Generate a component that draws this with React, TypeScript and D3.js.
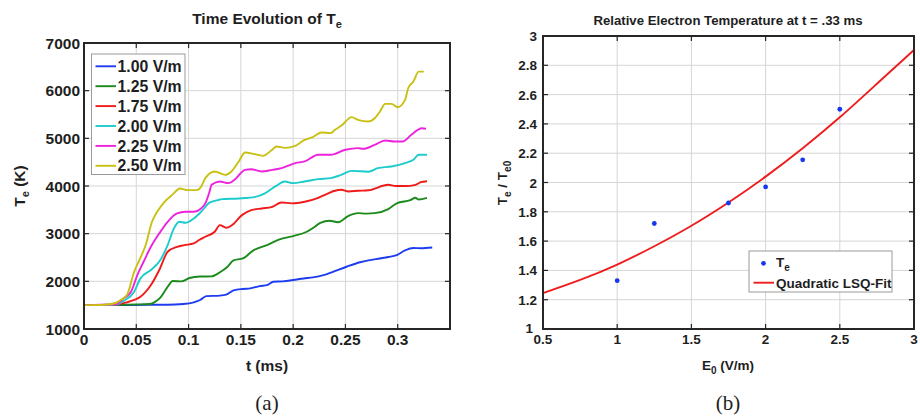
import React from "react";
import * as d3 from "d3";

// ---------- Panel (a) data: time [ms], Te [K] ----------
const legendLabels = ["1.00 V/m", "1.25 V/m", "1.75 V/m", "2.00 V/m", "2.25 V/m", "2.50 V/m"];
const seriesColors = ["#1d3cf0", "#1b8a1b", "#f01a1a", "#1ccccc", "#ee22dd", "#c8c012"];

const te100: [number, number][] = [[0,1500],[0.03,1500],[0.06,1510],[0.08,1510],[0.095,1525],[0.105,1560],[0.111,1608],[0.117,1690],[0.13,1700],[0.136,1720],[0.143,1810],[0.152,1840],[0.159,1852],[0.168,1900],[0.175,1920],[0.181,1990],[0.19,2000],[0.2,2027],[0.21,2060],[0.219,2083],[0.229,2130],[0.238,2200],[0.251,2306],[0.264,2400],[0.272,2440],[0.283,2480],[0.291,2510],[0.299,2550],[0.307,2650],[0.315,2700],[0.322,2695],[0.333,2710]];
const te125: [number, number][] = [[0,1500],[0.03,1505],[0.05,1515],[0.063,1525],[0.068,1570],[0.073,1656],[0.079,1852],[0.085,2006],[0.093,2000],[0.101,2070],[0.111,2100],[0.122,2105],[0.13,2190],[0.137,2300],[0.143,2440],[0.152,2480],[0.162,2650],[0.175,2760],[0.187,2880],[0.2,2950],[0.213,3040],[0.221,3150],[0.226,3228],[0.235,3270],[0.243,3240],[0.253,3375],[0.262,3430],[0.27,3420],[0.278,3430],[0.291,3515],[0.299,3635],[0.312,3704],[0.317,3752],[0.32,3717],[0.328,3752]];
const te175: [number, number][] = [[0,1500],[0.03,1510],[0.041,1560],[0.048,1610],[0.054,1677],[0.064,1922],[0.072,2237],[0.08,2621],[0.089,2725],[0.096,2760],[0.105,2796],[0.11,2866],[0.116,2935],[0.125,3040],[0.13,3180],[0.136,3124],[0.141,3170],[0.151,3389],[0.16,3494],[0.17,3529],[0.18,3564],[0.189,3655],[0.199,3635],[0.211,3669],[0.224,3752],[0.232,3830],[0.24,3900],[0.246,3920],[0.253,3886],[0.262,3900],[0.272,3910],[0.291,4025],[0.298,4000],[0.307,4000],[0.317,4025],[0.322,4080],[0.328,4100]];
const te200: [number, number][] = [[0,1500],[0.03,1515],[0.038,1590],[0.048,1782],[0.054,2062],[0.064,2237],[0.073,2446],[0.08,2761],[0.086,3110],[0.091,3249],[0.097,3228],[0.105,3320],[0.112,3459],[0.12,3650],[0.128,3704],[0.132,3725],[0.148,3739],[0.164,3773],[0.173,3844],[0.18,3949],[0.183,3991],[0.192,4095],[0.2,4060],[0.211,4095],[0.224,4144],[0.236,4165],[0.246,4234],[0.256,4318],[0.272,4300],[0.281,4375],[0.294,4410],[0.307,4480],[0.315,4550],[0.32,4655],[0.328,4655]];
const te225: [number, number][] = [[0,1500],[0.03,1520],[0.038,1643],[0.045,1782],[0.051,2132],[0.057,2411],[0.064,2725],[0.072,3006],[0.08,3249],[0.089,3425],[0.097,3459],[0.105,3459],[0.112,3529],[0.116,3634],[0.12,3878],[0.122,4025],[0.13,4095],[0.138,4060],[0.144,4130],[0.154,4339],[0.16,4350],[0.17,4305],[0.18,4339],[0.189,4375],[0.202,4480],[0.211,4515],[0.224,4655],[0.236,4655],[0.25,4760],[0.262,4794],[0.267,4780],[0.278,4864],[0.288,4955],[0.297,4934],[0.305,4934],[0.313,5074],[0.323,5213],[0.327,5200]];
const te250: [number, number][] = [[0,1500],[0.02,1510],[0.03,1545],[0.035,1608],[0.041,1712],[0.048,2201],[0.053,2446],[0.059,2761],[0.065,3249],[0.07,3459],[0.077,3669],[0.084,3808],[0.092,3949],[0.099,3913],[0.108,3913],[0.112,3983],[0.116,4165],[0.125,4305],[0.135,4234],[0.141,4305],[0.148,4515],[0.154,4703],[0.162,4675],[0.171,4633],[0.18,4760],[0.184,4829],[0.192,4800],[0.202,4843],[0.211,4968],[0.218,5018],[0.227,5123],[0.236,5110],[0.24,5178],[0.246,5262],[0.256,5444],[0.262,5387],[0.272,5353],[0.278,5422],[0.283,5563],[0.288,5722],[0.294,5722],[0.3,5653],[0.307,5806],[0.31,6051],[0.315,6191],[0.32,6400],[0.325,6400]];
const teSeries = [te100, te125, te175, te200, te225, te250];

const tTicks = [0, 0.05, 0.1, 0.15, 0.2, 0.25, 0.3];
const tTickLabels = ["0", "0.05", "0.1", "0.15", "0.2", "0.25", "0.3"];
const teTicks = [1000, 2000, 3000, 4000, 5000, 6000, 7000];

// ---------- Panel (b) data ----------
const fieldE = [1, 1.25, 1.75, 2, 2.25, 2.5];
const ratioTe = [1.33, 1.72, 1.86, 1.97, 2.155, 2.5];
const fitE = [0.5, 0.75, 1, 1.25, 1.5, 1.75, 2, 2.25, 2.5, 2.75, 3];
const fitRatio = [1.245, 1.335, 1.44, 1.565, 1.705, 1.864, 2.04, 2.234, 2.445, 2.674, 2.905];
const eTicks = [0.5, 1, 1.5, 2, 2.5, 3];
const eTickLabels = ["0.5", "1", "1.5", "2", "2.5", "3"];
const rTicks = [1, 1.2, 1.4, 1.6, 1.8, 2, 2.2, 2.4, 2.6, 2.8, 3];
const rTickLabels = ["1", "1.2", "1.4", "1.6", "1.8", "2", "2.2", "2.4", "2.6", "2.8", "3"];

const FONT = "'Liberation Sans', Arial, Helvetica, sans-serif";
const SERIF = "'Liberation Serif', 'DejaVu Serif', serif";
const AXIS = "#262626";
const GRID = "#d6d6d6";
const TXT = "#1e1e1e";

export default function App() {
  // Panel (a) scales
  const ax = d3.scaleLinear().domain([0, 0.35]).range([84, 450]);
  const ay = d3.scaleLinear().domain([1000, 7000]).range([329, 43]);
  const lineA = d3.line<[number, number]>().x(d => ax(d[0])).y(d => ay(d[1])).curve(d3.curveMonotoneX);

  // Panel (b) scales
  const bx = d3.scaleLinear().domain([0.5, 3]).range([543, 914]);
  const by = d3.scaleLinear().domain([1, 3]).range([329, 36]);
  const fitLine = d3.line<number>().x((_, i) => bx(fitE[i])).y(d => by(d)).curve(d3.curveNatural);

  const tickLen = 5;

  return (
    <div style={{ position: "fixed", left: 0, top: 0 }}>
      <svg width={920} height={418} style={{ display: "block", background: "#fff" }} fontFamily={FONT}>
        {/* ================= Panel (a) ================= */}
        <g>
          {tTicks.slice(1).map(t => (
            <line key={"gx" + t} x1={ax(t)} x2={ax(t)} y1={ay(1000)} y2={ay(7000)} stroke={GRID} strokeWidth={1} />
          ))}
          {teTicks.slice(1, -1).map(v => (
            <line key={"gy" + v} x1={ax(0)} x2={ax(0.35)} y1={ay(v)} y2={ay(v)} stroke={GRID} strokeWidth={1} />
          ))}
          {teSeries.map((s, i) => (
            <path key={"s" + i} d={lineA(s) || ""} fill="none" stroke={seriesColors[i]} strokeWidth={1.9} strokeLinejoin="round" />
          ))}
          {tTicks.map(t => (
            <g key={"tx" + t}>
              <line x1={ax(t)} x2={ax(t)} y1={ay(1000)} y2={ay(1000) - tickLen} stroke={AXIS} strokeWidth={1.2} />
              <line x1={ax(t)} x2={ax(t)} y1={ay(7000)} y2={ay(7000) + tickLen} stroke={AXIS} strokeWidth={1.2} />
            </g>
          ))}
          {teTicks.map(v => (
            <g key={"ty" + v}>
              <line x1={ax(0)} x2={ax(0) + tickLen} y1={ay(v)} y2={ay(v)} stroke={AXIS} strokeWidth={1.2} />
              <line x1={ax(0.35)} x2={ax(0.35) - tickLen} y1={ay(v)} y2={ay(v)} stroke={AXIS} strokeWidth={1.2} />
            </g>
          ))}
          <rect x={ax(0)} y={ay(7000)} width={ax(0.35) - ax(0)} height={ay(1000) - ay(7000)} fill="none" stroke={AXIS} strokeWidth={2} />
          {tTicks.map((t, i) => (
            <text key={"lx" + t} x={ax(t)} y={345} textAnchor="middle" fontSize={15.5} fontWeight="bold" fill={TXT}>{tTickLabels[i]}</text>
          ))}
          {teTicks.map(v => (
            <text key={"ly" + v} x={80} y={ay(v) + 5.5} textAnchor="end" fontSize={15.5} fontWeight="bold" fill={TXT}>{v}</text>
          ))}
          <rect x={91.5} y={54} width={93.5} height={120.5} fill="#fff" stroke="#9a9a9a" strokeWidth={1} />
          {legendLabels.map((lab, i) => (
            <g key={"lg" + i}>
              <line x1={95.5} x2={116} y1={66.3 + i * 19.9} y2={66.3 + i * 19.9} stroke={seriesColors[i]} strokeWidth={1.9} />
              <text x={117.5} y={66.3 + i * 19.9 + 5.6} fontSize={15.8} fontWeight="bold" fill={TXT}>{lab}</text>
            </g>
          ))}
          <text x={267} y={24} textAnchor="middle" fontSize={15.5} fontWeight="bold" fill={TXT}>
            Time Evolution of T<tspan fontSize={11} dy={4}>e</tspan>
          </text>
          <text x={267} y={371} textAnchor="middle" fontSize={15.5} fontWeight="bold" fill={TXT}>t (ms)</text>
          <text transform={`translate(25,186) rotate(-90)`} textAnchor="middle" fontSize={15.5} fontWeight="bold" fill={TXT}>
            T<tspan fontSize={11} dy={4}>e</tspan><tspan dy={-4}> (K)</tspan>
          </text>
          <text x={267} y={410} textAnchor="middle" fontSize={21} fontFamily={SERIF} fill={TXT}>(a)</text>
        </g>

        {/* ================= Panel (b) ================= */}
        <g>
          {eTicks.slice(1, -1).map(e => (
            <line key={"bgx" + e} x1={bx(e)} x2={bx(e)} y1={by(1)} y2={by(3)} stroke={GRID} strokeWidth={1} />
          ))}
          {rTicks.slice(1, -1).map(r => (
            <line key={"bgy" + r} x1={bx(0.5)} x2={bx(3)} y1={by(r)} y2={by(r)} stroke={GRID} strokeWidth={1} />
          ))}
          <path d={fitLine(fitRatio) || ""} fill="none" stroke="#ee1c1c" strokeWidth={1.9} />
          {fieldE.map((e, i) => (
            <circle key={"pt" + i} cx={bx(e)} cy={by(ratioTe[i])} r={2.4} fill="#1736f0" />
          ))}
          {eTicks.map(e => (
            <g key={"btx" + e}>
              <line x1={bx(e)} x2={bx(e)} y1={by(1)} y2={by(1) - tickLen} stroke={AXIS} strokeWidth={1.2} />
              <line x1={bx(e)} x2={bx(e)} y1={by(3)} y2={by(3) + tickLen} stroke={AXIS} strokeWidth={1.2} />
            </g>
          ))}
          {rTicks.map(r => (
            <g key={"bty" + r}>
              <line x1={bx(0.5)} x2={bx(0.5) + tickLen} y1={by(r)} y2={by(r)} stroke={AXIS} strokeWidth={1.2} />
              <line x1={bx(3)} x2={bx(3) - tickLen} y1={by(r)} y2={by(r)} stroke={AXIS} strokeWidth={1.2} />
            </g>
          ))}
          <rect x={bx(0.5)} y={by(3)} width={bx(3) - bx(0.5)} height={by(1) - by(3)} fill="none" stroke={AXIS} strokeWidth={2} />
          {eTicks.map((e, i) => (
            <text key={"blx" + e} x={bx(e)} y={344} textAnchor="middle" fontSize={13.5} fontWeight="bold" fill={TXT}>{eTickLabels[i]}</text>
          ))}
          {rTicks.map((r, i) => (
            <text key={"bly" + r} x={i === 0 ? 533 : 537} y={by(r) + (i === 0 ? 3.5 : 5)} textAnchor="end" fontSize={13.5} fontWeight="bold" fill={TXT}>{rTickLabels[i]}</text>
          ))}
          <rect x={749} y={251} width={143} height={41} fill="#fff" stroke="#9a9a9a" strokeWidth={1} />
          <circle cx={763.5} cy={263.3} r={2.4} fill="#1736f0" />
          <text x={776} y={267} fontSize={13.5} fontWeight="bold" fill={TXT}>
            T<tspan fontSize={10} dy={4}>e</tspan>
          </text>
          <line x1={753.5} x2={774} y1={282.7} y2={282.7} stroke="#ee1c1c" strokeWidth={1.9} />
          <text x={776} y={287.5} fontSize={13.5} fontWeight="bold" fill={TXT}>Quadratic LSQ-Fit</text>
          <text x={728} y={25} textAnchor="middle" fontSize={13.2} fontWeight="bold" fill={TXT}>
            Relative Electron Temperature at t = .33 ms
          </text>
          <text x={728} y={370} textAnchor="middle" fontSize={13.5} fontWeight="bold" fill={TXT}>
            E<tspan fontSize={10} dy={4}>0</tspan><tspan dy={-4}> (V/m)</tspan>
          </text>
          <text transform={`translate(507,183) rotate(-90)`} textAnchor="middle" fontSize={13.5} fontWeight="bold" fill={TXT}>
            T<tspan fontSize={10} dy={4}>e</tspan><tspan dy={-4}> / T</tspan><tspan fontSize={10} dy={4}>e0</tspan>
          </text>
          <text x={728} y={410} textAnchor="middle" fontSize={21} fontFamily={SERIF} fill={TXT}>(b)</text>
        </g>
      </svg>
    </div>
  );
}
